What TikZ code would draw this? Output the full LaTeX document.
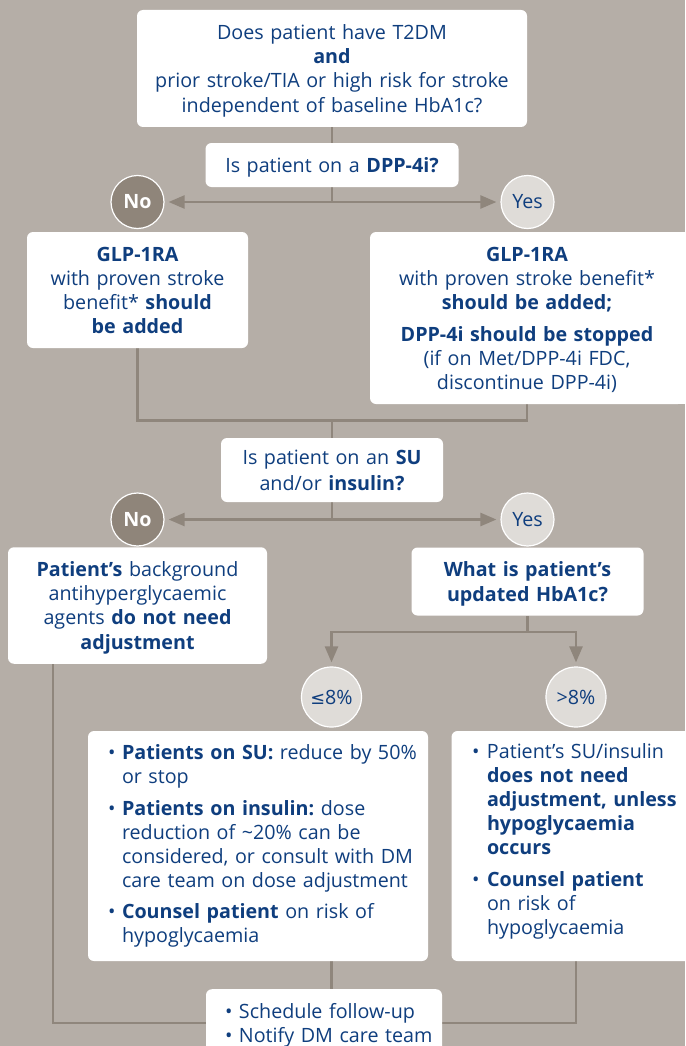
\documentclass[tikz,border=0pt]{standalone}
\usepackage{fontspec}
\IfFontExistsTF{Noto Sans Bold}
 {\setmainfont{Noto Sans}[BoldFont={Noto Sans Bold}]}
 {\IfFontExistsTF{NotoSans-Bold.ttf}
   {\setmainfont{Noto Sans}[BoldFont={NotoSans-Bold.ttf}]}
   {\IfFontExistsTF{Open Sans Bold}
     {\setmainfont{Open Sans}[BoldFont={Open Sans Bold}]}
     {\setmainfont{Noto Sans}[BoldFeatures={FakeBold=2.5}]}}}
\newfontfamily\symfont{DejaVu Sans}[Scale=0.9]
\usetikzlibrary{arrows.meta}
\definecolor{bgc}{HTML}{B5AEA7}
\definecolor{linec}{HTML}{8F867C}
\definecolor{noc}{HTML}{8F857A}
\definecolor{yesc}{HTML}{DFDCD8}
\definecolor{txt}{HTML}{0F3E7E}
\pgfdeclarelayer{bglayer}
\pgfdeclarelayer{connlayer}
\pgfsetlayers{bglayer,connlayer,main}
\newcommand\tstr{\rule[-4.5pt]{0pt}{24pt}}
\newcommand\bul[1]{\makebox[#1][l]{•}}
\frenchspacing
\begin{document}
\begin{tikzpicture}[x=1pt,y=-1pt,
 font=\fontsize{19.7}{24}\selectfont\frenchspacing, text=txt,
 box/.style={fill=white, rounded corners=6pt, inner sep=0pt, align=center},
 bulletbox/.style={fill=white, rounded corners=6pt, inner sep=0pt, align=left},
 nocirc/.style={circle, fill=noc, draw=white, line width=1.2pt, minimum size=53pt, inner sep=0pt, text=white, font=\fontsize{19.7}{24}\selectfont\bfseries},
 yescirc/.style={circle, fill=yesc, draw=white, line width=1.2pt, minimum size=53pt, inner sep=0pt},
 pctcirc/.style={yescirc, minimum size=60pt},
 conn/.style={draw=linec, line width=2.5pt},
 arr/.style={conn, -{Triangle[length=16pt,width=13pt]}, shorten >=4pt},
]
\useasboundingbox (0,0) rectangle (685,1046);
\begin{pgfonlayer}{bglayer}
\fill[bgc] (0,0) rectangle (685,1046);
\end{pgfonlayer}

\node[box, text width=390pt, minimum height=117pt] (top) at (332,68.5)
 {\tstr Does patient have T2DM\\\textbf{and}\\prior stroke/TIA or high risk for stroke\\independent of baseline HbA1c?\tstr};
\node[box, text width=253pt, minimum height=44pt] (dpp) at (332,165)
 {\tstr Is patient on a \textbf{DPP-4i?}\tstr};
\node[nocirc] (no1) at (137.5,202) {No};
\node[yescirc] (yes1) at (527.5,202) {Yes};
\coordinate (j1) at (332,202);

\node[box, text width=221pt, minimum height=116pt] (glpL) at (137.5,290)
 {\tstr\textbf{GLP-1RA}\\with proven stroke\\benefit* \textbf{should}\\\textbf{be added}\tstr};
\fill[white] (670,232) rectangle (690,404);
\node[box, text width=314pt, minimum height=172pt] (glpR) at (527,318)
 {\tstr\textbf{GLP-1RA}\\with proven stroke benefit*\\\textbf{should be added;}\\[8pt]\textbf{DPP-4i should be stopped}\\(if on Met/DPP-4i FDC,\\discontinue DPP-4i)\tstr};
\coordinate (j2) at (332,420.5);

\node[box, text width=222pt, minimum height=64pt] (su) at (332,470)
 {\tstr Is patient on an \textbf{SU}\\and/or \textbf{insulin?}\tstr};
\node[nocirc] (no2) at (137.5,519.5) {No};
\node[yescirc] (yes2) at (527.5,519.5) {Yes};
\coordinate (j3) at (332,519.5);

\node[box, text width=259pt, minimum height=116.5pt] (bg) at (137.5,605.5)
 {\tstr\textbf{Patient’s} background\\antihyperglycaemic\\agents \textbf{do not need}\\\textbf{adjustment}\tstr};
\node[box, text width=232pt, minimum height=68pt] (hba) at (527.5,581.5)
 {\tstr\textbf{What is patient’s}\\\textbf{updated HbA1c?}\tstr};
\coordinate (j4) at (527.5,632);
\node[pctcirc] (le8) at (331.5,697) {{\symfont ≤}8\%};
\node[pctcirc] (gt8) at (576,697) {>8\%};

\node[bulletbox, text width=300pt, minimum width=340pt, minimum height=230pt] (boxL) at (258,846)
 {\begin{tabular}{@{}l@{}l@{}}
 \bul{14pt} & \textbf{Patients on SU:} reduce by 50\% \\
 & or stop \\[8pt]
 \bul{14pt} & \textbf{Patients on insulin:} dose \\
 & reduction of \textasciitilde20\% can be \\
 & considered, or consult with DM \\
 & care team on dose adjustment \\[7pt]
 \bul{14pt} & \textbf{Counsel patient} on risk of \\
 & hypoglycaemia
 \end{tabular}};
\node[bulletbox, text width=209pt, minimum width=250pt, minimum height=230pt] (boxR) at (576.5,846)
 {\begin{tabular}{@{}l@{}l@{}}
 \bul{15pt} & Patient’s SU/insulin \\
 & \textbf{does not need} \\
 & \textbf{adjustment, unless} \\
 & \textbf{hypoglycaemia} \\
 & \textbf{occurs} \\[8pt]
 \bul{15pt} & \textbf{Counsel patient} \\
 & on risk of \\
 & hypoglycaemia \\[8pt]
 \end{tabular}};
\node[bulletbox, anchor=north, inner ysep=12pt, text width=198pt, minimum width=236pt] (fu) at (324,989)
 {\begin{tabular}{@{}l@{}l@{}}
 \bul{14pt} & Schedule follow-up \\
 \bul{14pt} & Notify DM care team
 \end{tabular}};
\coordinate (j5) at (53,1023);

\begin{pgfonlayer}{connlayer}
\draw[conn] (top.south) -- (dpp.north);
\draw[conn] (dpp.south) -- (j1);
\draw[arr] (j1) -- (no1);
\draw[arr] (j1) -- (yes1);
\draw[conn] (glpL.south) |- (j2);
\draw[conn] (glpR.south) |- (j2);
\draw[conn] (j2) -- (su.north);
\draw[conn] (su.south) -- (j3);
\draw[arr] (j3) -- (no2);
\draw[arr] (j3) -- (yes2);
\draw[conn] (hba.south) -- (j4);
\draw[arr] (j4) -| (le8);
\draw[arr] (j4) -| (gt8);
\draw[conn] (bg.south -| j5) -- (j5) -| (gt8 |- boxR.south);
\draw[conn] (le8 |- boxL.south) -- (le8 |- fu.north);
\end{pgfonlayer}
\end{tikzpicture}
\end{document}
